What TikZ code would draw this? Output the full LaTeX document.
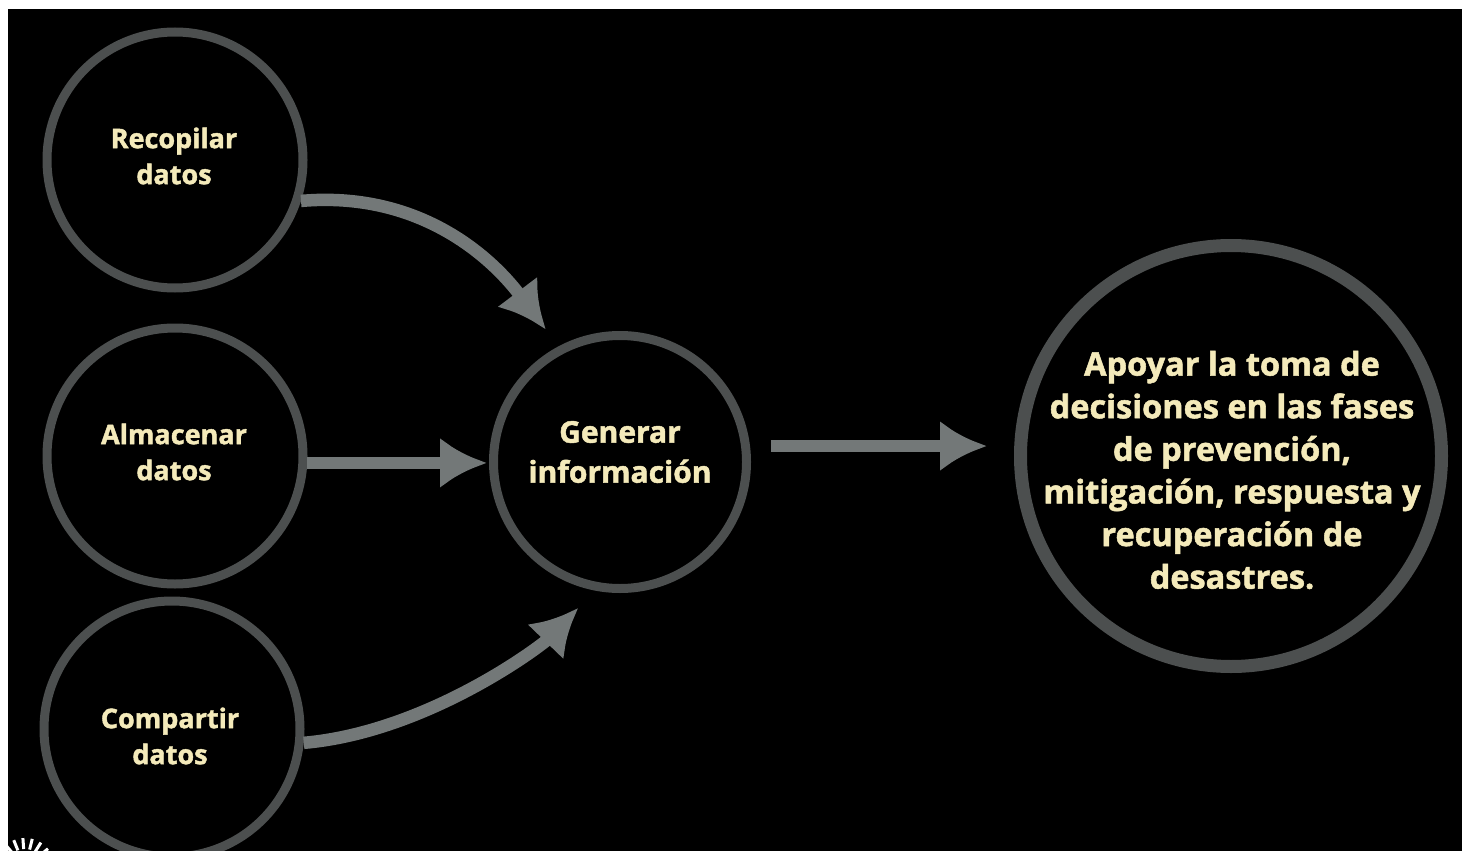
\documentclass[tikz,border=0pt]{standalone}
\usepackage{fontspec}
\setmainfont{Open Sans}[BoldFeatures={FakeBold=1.6}]
\usetikzlibrary{arrows.meta}
\definecolor{ring}{HTML}{4C4F4F}
\definecolor{shaft}{HTML}{737878}
\definecolor{cream}{HTML}{F4EABA}

\begin{document}
\begin{tikzpicture}[x=1pt,y=-1pt]
			\tikzstyle{stage} = [circle,draw=ring,line width=9pt,minimum size=256pt,inner sep=0pt]
			\tikzstyle{goal}  = [circle,draw=ring,line width=13pt,minimum size=421pt,inner sep=0pt]
			\tikzstyle{lbl}   = [text=cream,align=center,inner sep=0pt,font=\bfseries\fontsize{27}{36}\selectfont]
			\tikzstyle{flow}  = [draw=shaft,line width=12.5pt,-{Latex[length=47pt,width=51pt]}]
			
			\clip (0,0) rectangle (1462,851);
			\fill[white] (0,0) rectangle (1462,851);
			\fill[black] (8,9.5) rectangle (1462,851);
			
			\node[stage] (recop) at (175,160) {};
			\node[stage] (alm) at (175,456) {};
			\node[stage] (comp) at (172,729) {};
			\node[stage,minimum size=253pt] (gen) at (620,462) {};
			\node[goal] (apo) at (1231,456) {};
			
			\node[lbl] (recop-t) at (174,156) {Recopilar\\datos};
			\node[lbl] (alm-t) at (174,452) {Almacenar\\datos};
			\node[lbl] (comp-t) at (170,736) {Compartir\\datos};
			\node[lbl,font=\bfseries\fontsize{30}{40}\selectfont] (gen-t) at (620,452) {Generar\\informaci\'on};
			\node[lbl,font=\bfseries\fontsize{32.5}{42.6}\selectfont] (apo-t) at (1232,470) {Apoyar la toma de\\decisiones en las fases\\de prevenci\'on,\\mitigaci\'on, respuesta y\\recuperaci\'on de\\desastres.};
			
			\coordinate (g-out) at ([xshift=21pt]gen.7);
			
			\path (recop.-18) edge[flow,out=5,in=127,shorten >=21pt] (gen.118);
			\path (alm.-3) edge[flow,shorten >=2pt] (alm.-3 -| gen.west);
			\path (comp.-6) edge[flow,out=5,in=226,out distance=125pt,in distance=75pt,shorten >=24pt] (gen.259);
			\path (g-out) edge[flow,shorten >=27pt] (g-out -| apo.west);
			
			% spinner in the corner
			\coordinate (spin) at (25,868);
			\foreach \a in {40,58,...,148}
				\draw[white,line width=3pt] ([shift={(\a:19pt)}]spin) -- ([shift={(\a:30pt)}]spin);
		\end{tikzpicture}
\end{document}
